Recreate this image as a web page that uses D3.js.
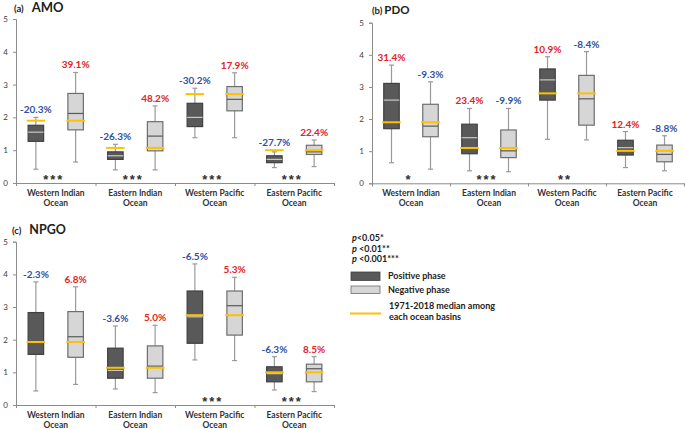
<!DOCTYPE html>
<html>
<head>
<meta charset='utf-8'/>
<title>AMO / PDO / NPGO box plots</title>
<script src='https://d3js.org/d3.v7.min.js'></script>
<style>
  body { margin: 0; background: #ffffff; font-family: Lato, 'Open Sans', sans-serif; }
  .tick text { font-family: Lato, sans-serif; font-size: 8px; fill: #404040; }
  .domain, .tick line { stroke: #8c8c8c; }
</style>
</head>
<body>
<script>
'use strict'

// ocean basins (x categories)
const oceans = ['Western Indian Ocean', 'Eastern Indian Ocean', 'Western Pacific Ocean', 'Eastern Pacific Ocean']
const phases = ['Positive', 'Negative']
const yTicks = [0, 1, 2, 3, 4, 5]

// box stats: [whisker low, q1, median, q3, whisker high]
const amoPositive = [[0.42, 1.27, 1.55, 1.76, 2.00], [0.40, 0.72, 0.83, 0.95, 1.18], [1.38, 1.72, 2.00, 2.43, 2.89], [0.47, 0.62, 0.72, 0.83, 0.95]]
const amoNegative = [[0.64, 1.62, 2.12, 2.73, 3.37], [0.40, 0.98, 1.43, 1.87, 2.35], [1.38, 2.20, 2.55, 2.94, 3.36], [0.50, 0.87, 0.95, 1.15, 1.31]]
const amoMedian = [1.90, 1.07, 2.71, 1.00]
const amoPosLabel = ['-20.3%', '-26.3%', '-30.2%', '-27.7%']
const amoNegLabel = ['39.1%', '48.2%', '17.9%', '22.4%']
const amoStars = ['***', '***', '***', '***']

const pdoPositive = [[0.64, 1.70, 2.59, 3.11, 3.68], [0.39, 0.92, 1.42, 1.84, 2.33], [1.37, 2.59, 3.22, 3.56, 3.94], [0.49, 0.88, 1.11, 1.34, 1.61]]
const pdoNegative = [[0.44, 1.45, 1.78, 2.46, 3.16], [0.36, 0.80, 1.01, 1.66, 2.33], [1.35, 1.81, 2.63, 3.36, 4.10], [0.39, 0.67, 0.90, 1.19, 1.48]]
const pdoMedian = [1.90, 1.10, 2.80, 1.01]
const pdoPosLabel = ['31.4%', '23.4%', '10.9%', '12.4%']
const pdoNegLabel = ['-9.3%', '-9.9%', '-8.4%', '-8.8%']
const pdoStars = ['*', '***', '**', '']

const npgoPositive = [[0.43, 1.55, 1.93, 2.83, 3.77], [0.49, 0.82, 1.06, 1.74, 2.42], [1.38, 1.89, 2.70, 3.49, 4.32], [0.46, 0.71, 0.96, 1.17, 1.48]]
const npgoNegative = [[0.63, 1.46, 2.09, 2.86, 3.62], [0.38, 0.82, 1.19, 1.81, 2.44], [1.36, 2.14, 3.04, 3.49, 3.91], [0.41, 0.71, 1.11, 1.25, 1.48]]
const npgoMedian = [1.93, 1.14, 2.75, 1.00]
const npgoPosLabel = ['-2.3%', '-3.6%', '-6.5%', '-6.3%']
const npgoNegLabel = ['6.8%', '5.0%', '5.3%', '8.5%']
const npgoStars = ['', '', '***', '***']

const legendSig = ['<0.05*', ' <0.01**', ' <0.001***']

const colours = {
  posFill: '#595959', posStroke: '#404040', posMed: '#c9c9c9',
  negFill: '#d6d6d6', negStroke: '#6e6e6e', negMed: '#595959',
  whisker: '#9a9a9a', ref: '#ffc000', blue: '#2f52a0', red: '#e02424'
}

const svg = d3.select('body').append('svg')
  .attr('width', 685)
  .attr('height', 430)

svg.append('rect').attr('width', '100%').attr('height', '100%').attr('fill', '#ffffff')

/**
 * drawPanel
 * One box plot panel: positive + negative phase per ocean basin.
 */
function drawPanel(p)
{
  const g = svg.append('g')

  const y = d3.scaleLinear().domain([0, 5]).range([p.y0, p.y5])
  const x = d3.scaleBand().domain(oceans).range(p.xr)
  const xs = d3.scalePoint().domain(phases).range([0, x.bandwidth()]).padding(0.5)
  const bw = 15.5

  g.append('g')
    .attr('transform', 'translate(' + p.xr[0] + ',0)')
    .call(d3.axisLeft(y).tickValues(yTicks).tickFormat(d3.format('d')).tickSize(3).tickPadding(5))

  g.append('g')
    .attr('transform', 'translate(0,' + p.y0 + ')')
    .call(d3.axisBottom(d3.scaleLinear().domain([0, 4]).range(p.xr)).ticks(4).tickSize(3).tickFormat(''))

  const series = [
    {phase: 'Positive', stats: p.pos, fill: colours.posFill, stroke: colours.posStroke, med: colours.posMed, labels: p.posLabel},
    {phase: 'Negative', stats: p.neg, fill: colours.negFill, stroke: colours.negStroke, med: colours.negMed, labels: p.negLabel}
  ]

  series.forEach(function(s) {
    s.stats.forEach(function(d, i) {
      const cx = x(oceans[i]) + xs(s.phase)
      const bg = g.append('g')
      bg.append('line')
        .attr('x1', cx).attr('x2', cx)
        .attr('y1', y(d[0])).attr('y2', y(d[4]))
        .attr('stroke', colours.whisker).attr('stroke-width', 1.2)
      bg.selectAll('.cap').data([d[0], d[4]]).join('line')
        .attr('x1', cx - 2.5).attr('x2', cx + 2.5)
        .attr('y1', v => y(v)).attr('y2', v => y(v))
        .attr('stroke', colours.whisker).attr('stroke-width', 1.2)
      bg.append('rect')
        .attr('x', cx - bw / 2).attr('width', bw)
        .attr('y', y(d[3])).attr('height', y(d[1]) - y(d[3]))
        .attr('fill', s.fill).attr('stroke', s.stroke).attr('stroke-width', 1.2)
      bg.append('line')
        .attr('x1', cx - bw / 2).attr('x2', cx + bw / 2)
        .attr('y1', y(d[2])).attr('y2', y(d[2]))
        .attr('stroke', s.med).attr('stroke-width', 1.2)
      bg.append('line')
        .attr('x1', cx - bw / 2 - 1.5).attr('x2', cx + bw / 2 + 1.5)
        .attr('y1', y(p.median[i])).attr('y2', y(p.median[i]))
        .attr('stroke', colours.ref).attr('stroke-width', 2)

      const top = Math.max(d[4], p.median[i])
      const lab = s.labels[i]
      bg.append('text')
        .attr('x', cx).attr('y', y(top) - 4)
        .attr('text-anchor', 'middle')
        .attr('font-size', '10px').attr('font-weight', 'bold')
        .attr('fill', lab.startsWith('-') ? colours.blue : colours.red)
        .text(lab)
    })
  })

  // significance stars
  g.selectAll('.stars').data(p.stars).join('text')
    .attr('x', (d, i) => x(oceans[i]) + x.bandwidth() / 2 - 2)
    .attr('y', p.y0 + 1)
    .attr('text-anchor', 'middle')
    .attr('font-family', "'Liberation Sans', sans-serif")
    .attr('font-size', '13px').attr('font-weight', 'bold')
    .attr('letter-spacing', '2px')
    .attr('fill', '#303030')
    .text(d => d)

  oceans.forEach(function(o) {
    const words = o.split(' ')
    const t = g.append('text')
      .attr('x', x(o) + x.bandwidth() / 2)
      .attr('y', p.y0 + 12.5)
      .attr('text-anchor', 'middle')
      .attr('font-size', '8.5px').attr('font-weight', 'bold')
      .attr('fill', '#333333')
    t.append('tspan').text(words.slice(0, 2).join(' '))
    t.append('tspan').attr('x', x(o) + x.bandwidth() / 2).attr('dy', 10).text(words[2])
  })

  const title = g.append('text')
    .attr('x', p.title[0]).attr('y', p.title[1])
    .attr('font-weight', 'bold').attr('fill', '#222222')
  title.append('tspan').attr('font-size', '9.5px').text(p.tag)
  title.append('tspan').attr('font-size', p.nameSize).attr('dx', p.gap).text(p.name)
}

drawPanel({tag: '(a)', name: 'AMO', title: [14, 12], gap: 8, nameSize: '13px',
  xr: [16, 334], y0: 183, y5: 19,
  pos: amoPositive, neg: amoNegative, median: amoMedian, posLabel: amoPosLabel, negLabel: amoNegLabel, stars: amoStars})

drawPanel({tag: '(b)', name: 'PDO', title: [372, 14], gap: 2, nameSize: '11.5px',
  xr: [372, 684], y0: 183.3, y5: 22.7,
  pos: pdoPositive, neg: pdoNegative, median: pdoMedian, posLabel: pdoPosLabel, negLabel: pdoNegLabel, stars: pdoStars})

drawPanel({tag: '(c)', name: 'NPGO', title: [12, 234], gap: 8, nameSize: '12.5px',
  xr: [16, 334], y0: 405, y5: 241.7,
  pos: npgoPositive, neg: npgoNegative, median: npgoMedian, posLabel: npgoPosLabel, negLabel: npgoNegLabel, stars: npgoStars})

// legend
const lg = svg.append('g').attr('font-weight', 'bold').attr('fill', '#222222')

lg.selectAll('.sig').data(legendSig).join('text')
  .attr('x', 352).attr('y', (d, i) => 241 + i * 10.5)
  .attr('font-size', '9px')
  .each(function(d) {
    d3.select(this).append('tspan').attr('font-style', 'italic').text('p')
    d3.select(this).append('tspan').text(d)
  })

lg.append('rect').attr('x', 351).attr('y', 272).attr('width', 29).attr('height', 8.5)
  .attr('fill', colours.posFill).attr('stroke', colours.posStroke).attr('stroke-width', 0.8)
lg.append('text').attr('x', 388).attr('y', 279).attr('font-size', '9px').text('Positive phase')

lg.append('rect').attr('x', 351).attr('y', 286).attr('width', 29).attr('height', 7.5)
  .attr('fill', colours.negFill).attr('stroke', colours.negStroke).attr('stroke-width', 0.8)
lg.append('text').attr('x', 388).attr('y', 292.5).attr('font-size', '9px').text('Negative phase')

lg.append('line').attr('x1', 350).attr('x2', 381).attr('y1', 313.5).attr('y2', 313.5)
  .attr('stroke', colours.ref).attr('stroke-width', 2)
lg.append('text').attr('x', 389).attr('y', 309).attr('font-size', '9px').text('1971-2018 median among')
lg.append('text').attr('x', 389).attr('y', 320).attr('font-size', '9px').text('each ocean basins')
</script>
</body>
</html>
